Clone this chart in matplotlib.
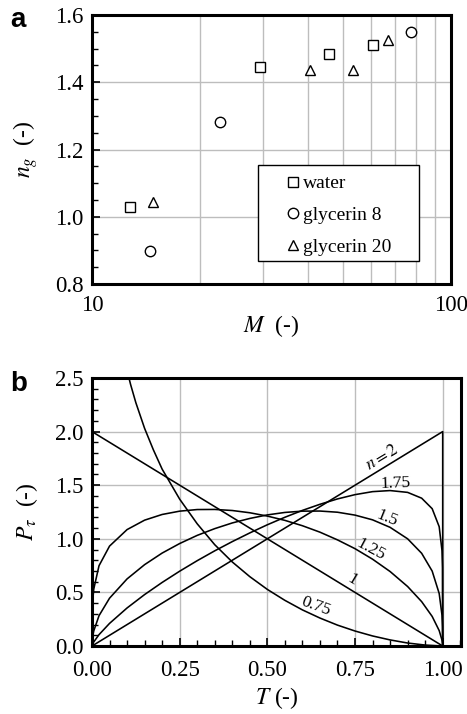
import matplotlib.pyplot as plt
from matplotlib.patches import Rectangle
from matplotlib.ticker import MultipleLocator, FixedLocator, NullFormatter

plt.rcParams['font.family'] = ['Liberation Serif', 'DejaVu Serif']
plt.rcParams['mathtext.fontset'] = 'stix'

# (a) exponent n_g against M for the three liquids
m_water = [12.8, 29.4, 45.8, 60.5]
ng_water = [1.03, 1.446, 1.485, 1.511]
m_gly8 = [14.5, 22.7, 77.2]
ng_gly8 = [0.897, 1.282, 1.549]
m_gly20 = [14.8, 40.6, 53.5, 66.6]
ng_gly20 = [1.045, 1.436, 1.436, 1.526]

# (b) P_tau against T for several n
t_curve = [0, 0.002, 0.005, 0.02, 0.05, 0.1, 0.15, 0.2, 0.25, 0.3, 0.35, 0.4,
           0.45, 0.5, 0.55, 0.6, 0.65, 0.7, 0.75, 0.8, 0.85, 0.9, 0.94, 0.97,
           0.99, 0.998, 0.9995, 1.0]
p_125 = [0, 0.423, 0.531, 0.749, 0.932, 1.086, 1.174, 1.227, 1.258, 1.273,
         1.274, 1.264, 1.243, 1.212, 1.172, 1.122, 1.062, 0.990, 0.908, 0.810,
         0.695, 0.555, 0.414, 0.276, 0.144, 0.055, 0.024, 0]
p_150 = [0, 0.089, 0.141, 0.283, 0.446, 0.626, 0.759, 0.867, 0.956, 1.032,
         1.095, 1.148, 1.190, 1.223, 1.246, 1.258, 1.259, 1.248, 1.221, 1.177,
         1.107, 1.000, 0.865, 0.699, 0.490, 0.288, 0.182, 0]
p_175 = [0, 0.019, 0.038, 0.106, 0.211, 0.355, 0.480, 0.593, 0.698, 0.796,
         0.888, 0.974, 1.055, 1.131, 1.201, 1.265, 1.322, 1.372, 1.412, 1.440,
         1.450, 1.433, 1.379, 1.281, 1.113, 0.890, 0.731, 0]
t_075 = [0.1, 0.11, 0.125, 0.15, 0.175, 0.2, 0.25, 0.3, 0.35, 0.4, 0.45, 0.5,
         0.55, 0.6, 0.65, 0.7, 0.75, 0.8, 0.85, 0.9, 0.95, 1.0]
p_075 = [2.57, 2.44, 2.27, 2.03, 1.83, 1.65, 1.37, 1.14, 0.945, 0.784, 0.647,
         0.528, 0.426, 0.337, 0.261, 0.195, 0.140, 0.094, 0.057, 0.028, 0.009, 0]
t_100 = [0, 1]
p_100 = [2, 0]
t_200 = [0, 1, 1]
p_200 = [0, 2, 0]

# curve labels: text, T, P, rotation
curve_labels = [('$n = 2$', 0.828, 1.754, 31), ('1.75', 0.866, 1.52, 2),
                ('1.5', 0.842, 1.19, -22), ('1.25', 0.794, 0.895, -28),
                ('1', 0.742, 0.615, -31), ('0.75', 0.638, 0.367, -20)]

fs = 16.5
fl = 17
grid_col = '#bdbdbd'

fig = plt.figure(figsize=(4.67, 7.14), dpi=100)
ax1 = fig.add_axes([0.197, 0.6022, 0.7687, 0.3768])
ax2 = fig.add_axes([0.197, 0.0952, 0.790, 0.3754])

for ax in (ax1, ax2):
    for sp in ax.spines.values():
        sp.set_linewidth(2.2)
    ax.set_axisbelow(True)

# panel a
mk = dict(ls='none', mfc='white', mec='black', mew=1.0, ms=7.5)
ax1.plot(m_water, ng_water, marker='s', label='water', **mk)
ax1.plot(m_gly8, ng_gly8, marker='o', label='glycerin 8', **mk)
ax1.plot(m_gly20, ng_gly20, marker='^', label='glycerin 20', **mk)
ax1.set_xscale('log')
ax1.set_xlim(10, 100)
ax1.set_ylim(0.8, 1.6)
ax1.xaxis.set_major_locator(FixedLocator([10, 100]))
ax1.xaxis.set_minor_locator(FixedLocator([20, 30, 40, 50, 60, 70, 80, 90]))
ax1.xaxis.set_major_formatter(plt.FixedFormatter(['10', '100']))
ax1.xaxis.set_minor_formatter(NullFormatter())
ax1.yaxis.set_major_locator(MultipleLocator(0.2))
ax1.yaxis.set_minor_locator(MultipleLocator(0.05))
ax1.yaxis.set_major_formatter(plt.FormatStrFormatter('%.1f'))
ax1.grid(True, which='both', axis='x', color=grid_col, lw=1.0)
ax1.grid(True, which='major', axis='y', color=grid_col, lw=1.0)
ax1.tick_params(axis='x', which='both', length=0, pad=8, labelsize=fs)
ax1.tick_params(axis='y', which='major', direction='in', length=6, width=1.2,
                pad=6, labelsize=fs)
ax1.tick_params(axis='y', which='minor', direction='in', length=4, width=1.0)
ax1.set_xlabel('$M$  (-)', fontsize=fl, labelpad=-2)
ax1.set_ylabel('$n_g$  (-)', fontsize=fl, labelpad=11)

ax1.add_patch(Rectangle((0.462, 0.0855), 0.449, 0.357, transform=ax1.transAxes,
                        fc='white', ec='black', lw=1.0, zorder=4))
ax1.legend(loc='upper left', bbox_to_anchor=(0.533, 0.406), frameon=False,
           fontsize=14, borderpad=0, handlelength=1.0, handletextpad=0.0,
           labelspacing=0.73, borderaxespad=0)

# panel b
lw = 1.15
for t, p in [(t_075, p_075), (t_100, p_100), (t_curve, p_125),
             (t_curve, p_150), (t_curve, p_175), (t_200, p_200)]:
    ax2.plot(t, p, color='black', lw=lw)
ax2.set_xlim(0, 1.052)
ax2.set_ylim(0, 2.5)
ax2.xaxis.set_major_locator(FixedLocator([0, 0.25, 0.5, 0.75, 1.0]))
ax2.xaxis.set_minor_locator(MultipleLocator(0.05))
ax2.xaxis.set_major_formatter(plt.FormatStrFormatter('%.2f'))
ax2.yaxis.set_major_locator(MultipleLocator(0.5))
ax2.yaxis.set_minor_locator(MultipleLocator(0.1))
ax2.yaxis.set_major_formatter(plt.FormatStrFormatter('%.1f'))
ax2.grid(True, which='major', color=grid_col, lw=1.0)
ax2.tick_params(which='major', direction='in', length=6, width=1.2, pad=6,
                labelsize=fs)
ax2.tick_params(axis='x', which='major', pad=10)
ax2.tick_params(which='minor', direction='in', length=4, width=1.0)
ax2.set_xlabel('$T$ (-)', fontsize=fl, labelpad=3)
ax2.set_ylabel('$P_\\tau$  (-)', fontsize=fl, labelpad=11)

for txt, t, p, rot in curve_labels:
    ax2.text(t, p, txt, fontsize=12.5, rotation=rot, rotation_mode='anchor',
             ha='center', va='center')

fig.text(0.021, 0.990, 'a', fontsize=20, fontweight='bold', va='top',
         family='Liberation Sans')
fig.text(0.021, 0.480, 'b', fontsize=20, fontweight='bold', va='top',
         family='Liberation Sans')

fig.savefig('out.png', dpi=100)
